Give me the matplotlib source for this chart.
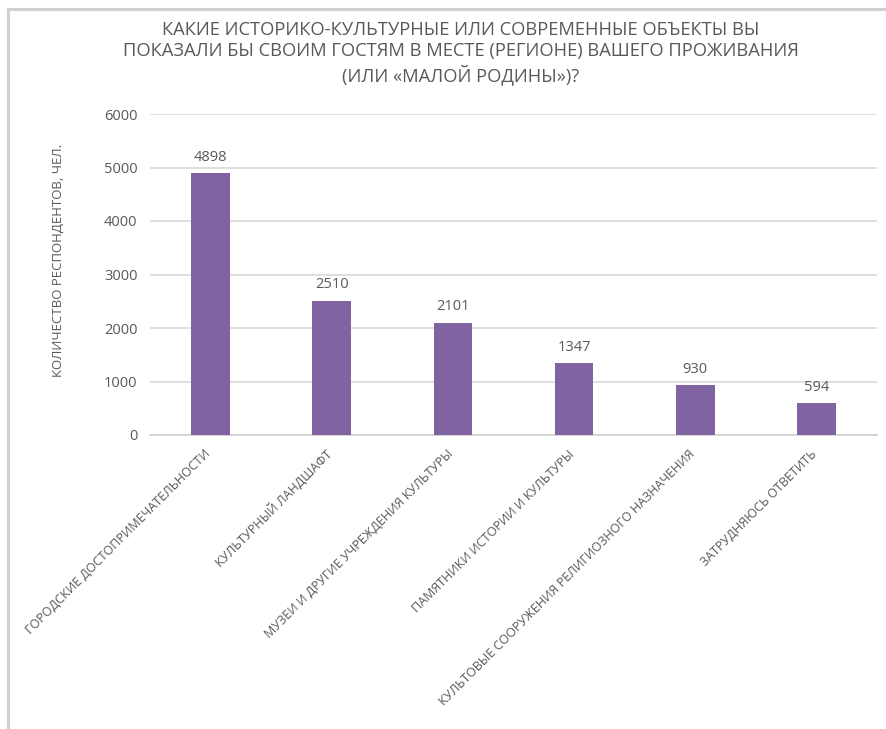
import matplotlib
matplotlib.use("Agg")
import matplotlib.pyplot as plt
from matplotlib.lines import Line2D

categories = [
    "ГОРОДСКИЕ ДОСТОПРИМЕЧАТЕЛЬНОСТИ",
    "КУЛЬТУРНЫЙ ЛАНДШАФТ",
    "МУЗЕИ И ДРУГИЕ УЧРЕЖДЕНИЯ КУЛЬТУРЫ",
    "ПАМЯТНИКИ ИСТОРИИ И КУЛЬТУРЫ",
    "КУЛЬТОВЫЕ СООРУЖЕНИЯ РЕЛИГИОЗНОГО НАЗНАЧЕНИЯ",
    "ЗАТРУДНЯЮСЬ ОТВЕТИТЬ",
]
values = [4898, 2510, 2101, 1347, 930, 594]
yticks = [0, 1000, 2000, 3000, 4000, 5000, 6000]
title = ("КАКИЕ ИСТОРИКО-КУЛЬТУРНЫЕ ИЛИ СОВРЕМЕННЫЕ ОБЪЕКТЫ ВЫ\n"
         "ПОКАЗАЛИ БЫ СВОИМ ГОСТЯМ В МЕСТЕ (РЕГИОНЕ) ВАШЕГО ПРОЖИВАНИЯ\n"
         "(ИЛИ «МАЛОЙ РОДИНЫ»)?")
ylabel = "КОЛИЧЕСТВО РЕСПОНДЕНТОВ, ЧЕЛ."

TXT = "#595959"
BAR = "#8064A2"
FONT = ["Open Sans", "DejaVu Sans"]

W, H = 887, 729
fig = plt.figure(figsize=(W / 100, H / 100), dpi=100)
fig.patch.set_facecolor("white")

# frame lines
fig.add_artist(Line2D([8.5 / W, 1], [1 - 8.5 / H, 1 - 8.5 / H], color="#D0D0D0", lw=2.2, transform=fig.transFigure))
fig.add_artist(Line2D([8.5 / W, 8.5 / W], [0, 1 - 8.5 / H], color="#D0D0D0", lw=2.2, transform=fig.transFigure))

ax = fig.add_axes([150 / W, (H - 435) / H, (877 - 150) / W, (435 - 114) / H])
x = list(range(len(categories)))
ax.bar(x, values, width=0.32, color=BAR, zorder=3)
ax.set_xlim(-0.5, len(categories) - 0.5)
ax.set_ylim(0, 6000)
ax.set_yticks(yticks)
ax.set_yticklabels([str(t) for t in yticks], fontsize=10.5, color=TXT, family=FONT)
ax.tick_params(axis="y", length=0, pad=9)
ax.tick_params(axis="x", length=0)
ax.set_xticks(x)
ax.set_xticklabels([])
ax.grid(axis="y", color="#D9D9D9", lw=1.2, zorder=0)
for s in ["top", "right", "left"]:
    ax.spines[s].set_visible(False)
ax.spines["bottom"].set_color("#D0D0D0")
ax.spines["bottom"].set_linewidth(1.2)

for xi, v in zip(x, values):
    ax.annotate(str(v), (xi, v), xytext=(0, 6), textcoords="offset points",
                ha="center", va="bottom", fontsize=10.5, color=TXT, family=FONT)

for xi, c in zip(x, categories):
    ax.annotate(c, (xi, 0), xytext=(-2, -17), textcoords="offset pixels",
                ha="right", va="center", rotation=45, rotation_mode="anchor",
                fontsize=9, color=TXT, family=FONT)

fig.text(58 / W, 1 - 260 / H, ylabel, rotation=90, ha="center", va="center",
         fontsize=9.5, color=TXT, family=FONT)
fig.text(461 / W, 1 - 53 / H, title, ha="center", va="center", fontsize=13.2,
         color=TXT, family=FONT, linespacing=1.25)

fig.savefig("out.png", dpi=100, facecolor="white")
